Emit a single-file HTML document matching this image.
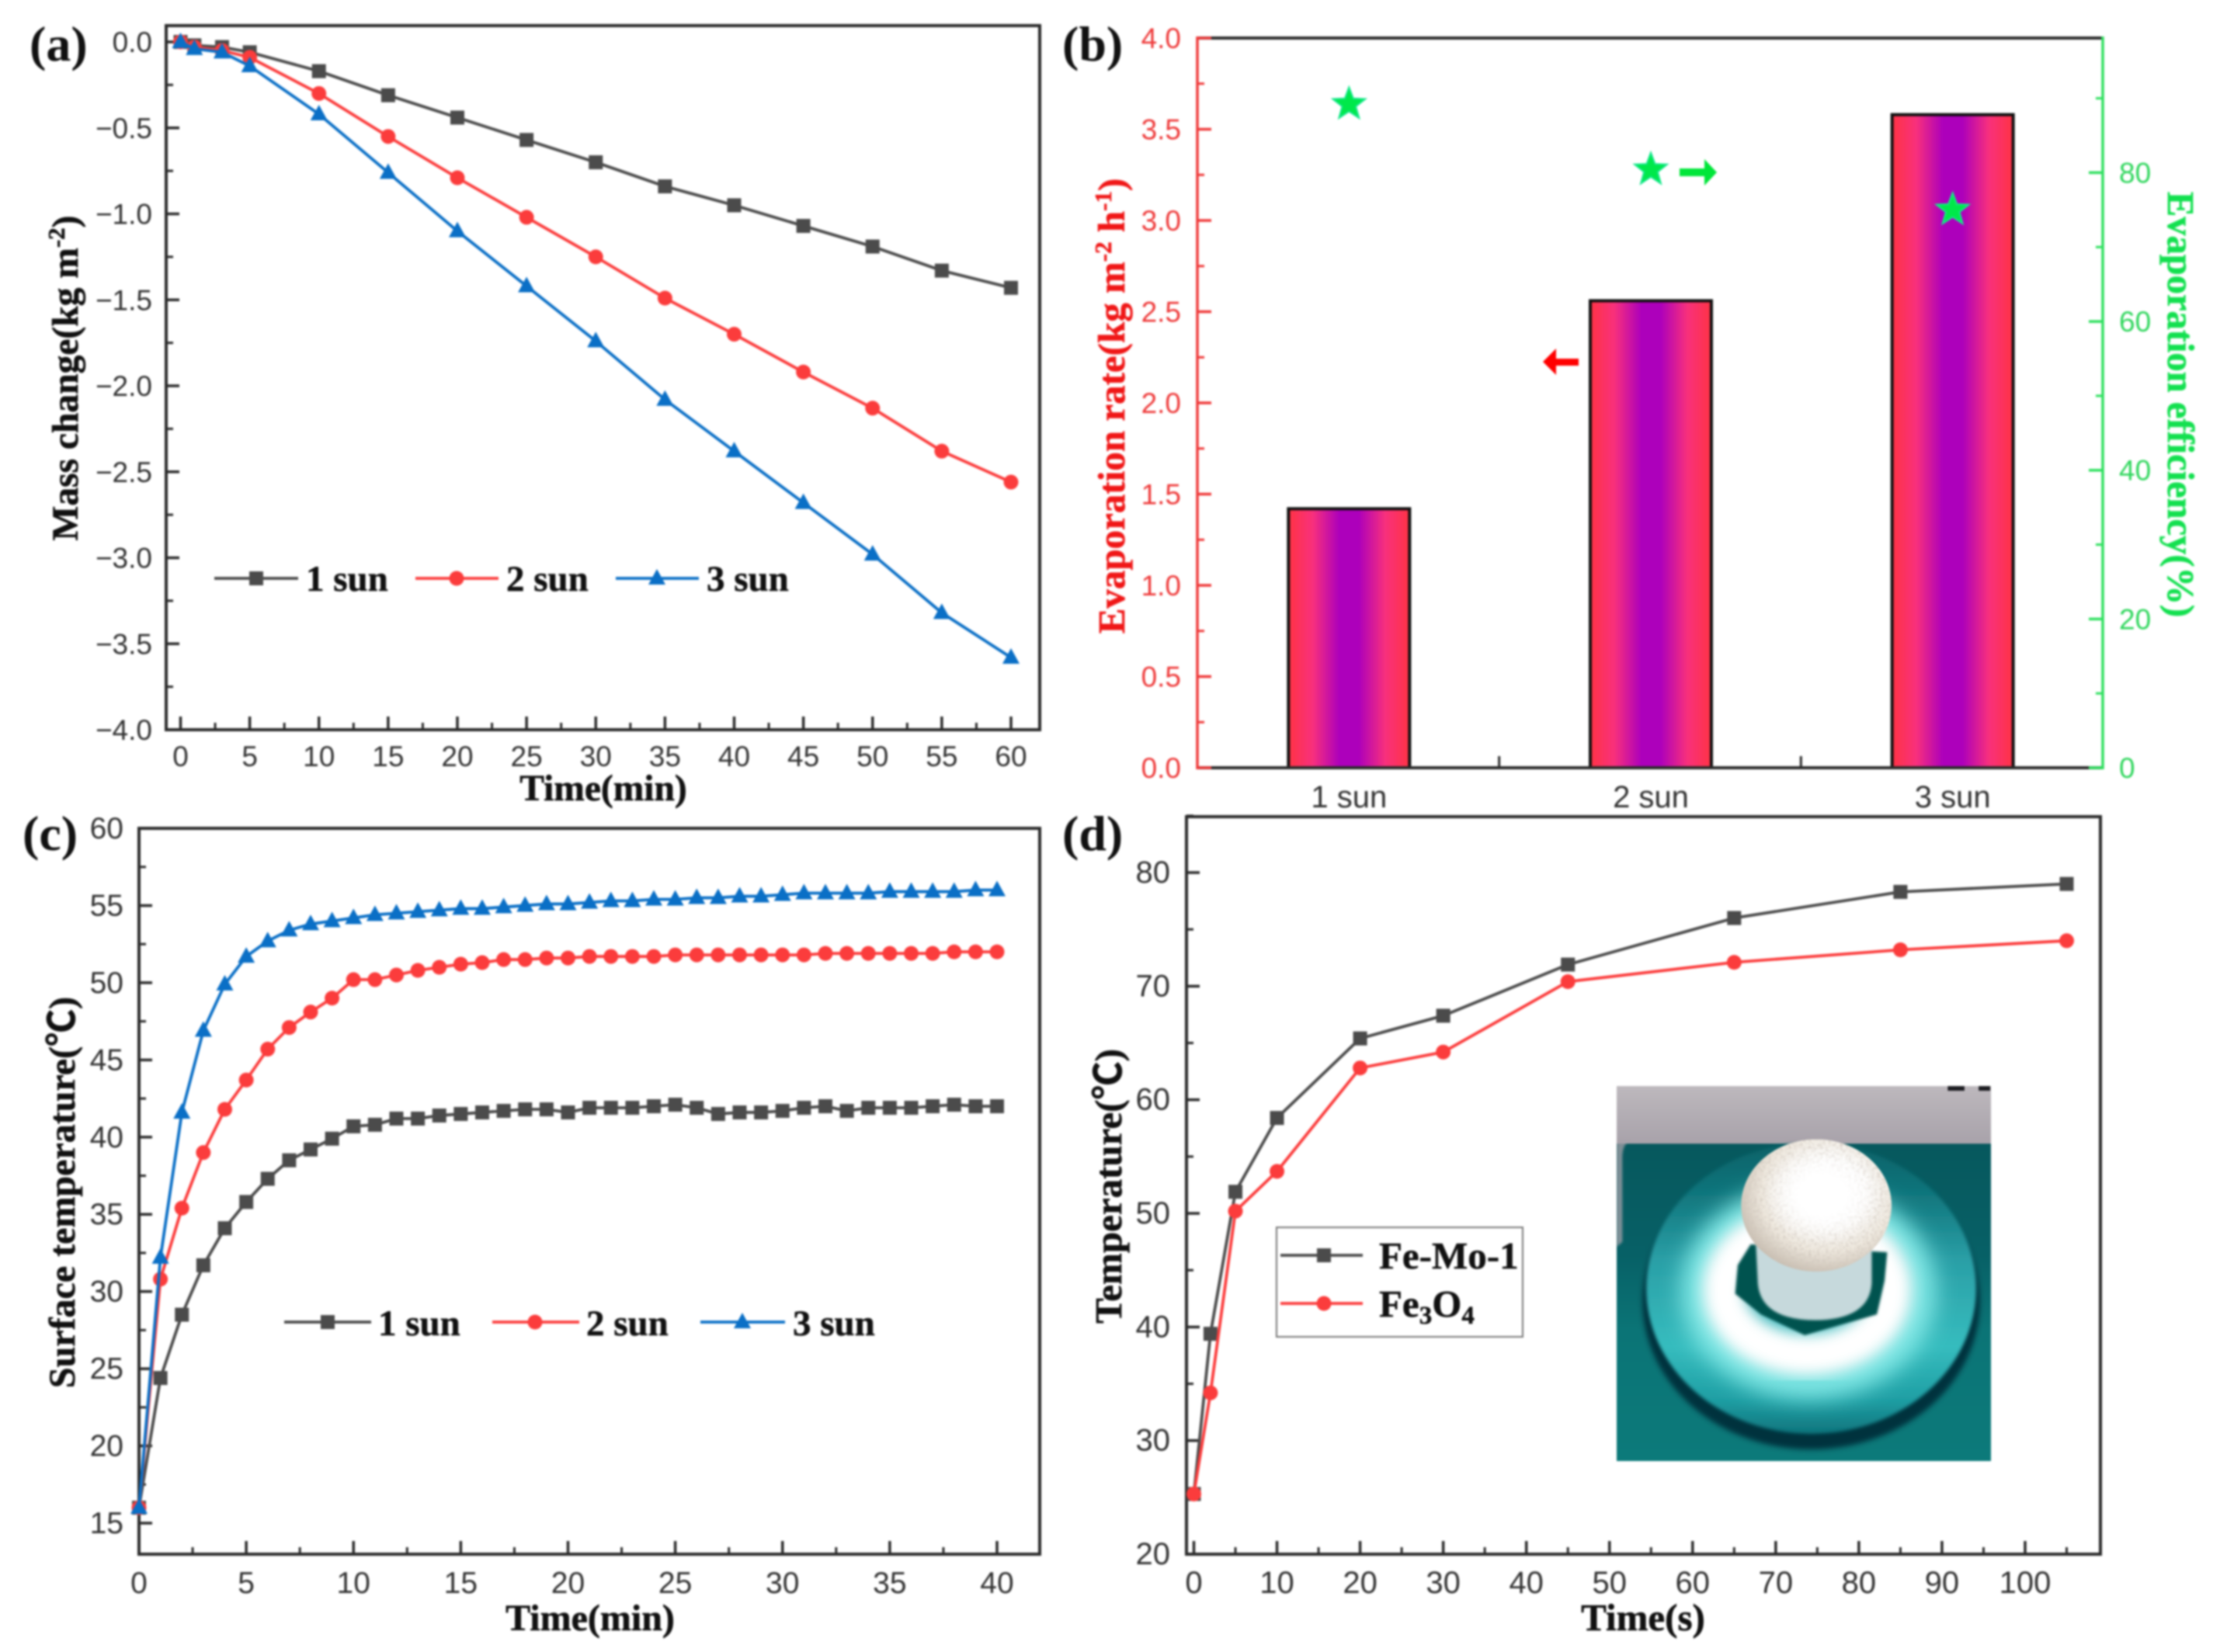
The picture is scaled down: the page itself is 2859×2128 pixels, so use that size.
<!DOCTYPE html>
<html lang="en">
<head>
<meta charset="utf-8">
<title>Evaporation performance charts</title>
<style>
html,body{margin:0;padding:0;background:#fff;width:2859px;height:2128px;overflow:hidden}
svg{display:block;filter:blur(1.2px)}
.tick{font-family:"Liberation Sans",sans-serif;fill:#333}
.title{font-family:"Liberation Serif","Noto Sans CJK SC",serif;font-weight:bold;stroke-width:0.6px}
.letter{font-family:"Liberation Serif",serif;font-size:64px;font-weight:bold;fill:#111}
.legend{font-family:"Liberation Serif",serif;font-size:47px;font-weight:bold;fill:#111;stroke:#111;stroke-width:0.5px}
</style>
</head>
<body>
<svg id="figure" xmlns="http://www.w3.org/2000/svg" width="2859" height="2128" viewBox="0 0 2859 2128">
<defs>
<linearGradient id="bar-gradient" x1="0" x2="1" y1="0" y2="0">
<stop offset="0" stop-color="#ff3344"/><stop offset="0.2" stop-color="#f8307c"/><stop offset="0.42" stop-color="#ad00bb"/><stop offset="0.58" stop-color="#ad00bb"/><stop offset="0.8" stop-color="#f8307c"/><stop offset="1" stop-color="#ff3344"/>
</linearGradient>
<linearGradient id="dish-gradient" x1="0" x2="0" y1="0" y2="1"><stop offset="0" stop-color="#0a6268"/><stop offset="0.16" stop-color="#0f737a"/><stop offset="0.4" stop-color="#2a9fa6"/><stop offset="0.7" stop-color="#36bcbe"/><stop offset="0.88" stop-color="#1f9fa4"/><stop offset="1" stop-color="#0e757d"/></linearGradient>
<radialGradient id="sponge-gradient" cx="0.58" cy="0.4" r="0.62"><stop offset="0.35" stop-color="#ffffff"/><stop offset="0.72" stop-color="#eee8de"/><stop offset="1" stop-color="#c9bfb2"/></radialGradient>
<linearGradient id="grey-band-gradient" x1="0" x2="0" y1="0" y2="1"><stop offset="0" stop-color="#bdb8bd"/><stop offset="1" stop-color="#a8a2aa"/></linearGradient>
<linearGradient id="board-gradient" x1="0" x2="0" y1="0" y2="1"><stop offset="0" stop-color="#065459"/><stop offset="0.45" stop-color="#076066"/><stop offset="0.65" stop-color="#0b7476"/><stop offset="1" stop-color="#0c7a7a"/></linearGradient>
<filter id="soft-10" x="-20%" y="-20%" width="140%" height="140%"><feGaussianBlur stdDeviation="10"/></filter>
<filter id="soft-40" x="-30%" y="-30%" width="160%" height="160%"><feGaussianBlur stdDeviation="40"/></filter>
<filter id="soft-28" x="-20%" y="-20%" width="140%" height="140%"><feGaussianBlur stdDeviation="28"/></filter>
<filter id="soft-6" x="-20%" y="-20%" width="140%" height="140%"><feGaussianBlur stdDeviation="6"/></filter>
<filter id="soft-4" x="-20%" y="-20%" width="140%" height="140%"><feGaussianBlur stdDeviation="4"/></filter>
<filter id="sponge-grain" x="-5%" y="-5%" width="110%" height="110%">
  <feTurbulence type="fractalNoise" baseFrequency="0.09" numOctaves="2" seed="4" result="n"/>
  <feColorMatrix in="n" type="matrix" values="0 0 0 0 0.62  0 0 0 0 0.56  0 0 0 0 0.5  1.8 0 0 0 -0.75" result="speck"/>
  <feComposite in="speck" in2="SourceAlpha" operator="in" result="clipped"/>
  <feMerge><feMergeNode in="SourceGraphic"/><feMergeNode in="clipped"/></feMerge>
</filter>
<radialGradient id="sponge-highlight" cx="0.5" cy="0.5" r="0.5"><stop offset="0.4" stop-color="#fff"/><stop offset="1" stop-color="#fff" stop-opacity="0"/></radialGradient>
<clipPath id="photo-clip"><rect x="0" y="0" width="1453" height="1445"/></clipPath>
</defs>
<rect x="0" y="0" width="2859" height="2128" fill="#fff"/>

<g id="panel-a"></g>
<g id="panel-b"></g>
<g id="panel-c"></g>
<g id="panel-d"></g>

<g transform="translate(2082,1399) scale(0.3318,0.3343)" clip-path="url(#photo-clip)">
  <rect width="1453" height="1445" fill="url(#board-gradient)"/>
  <rect width="1453" height="222" fill="url(#grey-band-gradient)"/>
  <path d="M0 210H50Q24 225 22 270V600L0 620Z" fill="#a8a2aa" opacity="0.75" filter="url(#soft-4)"/>
  <rect x="1285" y="0" width="65" height="18" fill="#1d1d22"/>
  <rect x="1405" y="0" width="45" height="18" fill="#1d1d22"/>
  <ellipse cx="755" cy="830" rx="655" ry="570" fill="#05323d" filter="url(#soft-10)"/>
  <ellipse cx="755" cy="780" rx="640" ry="560" fill="url(#dish-gradient)" filter="url(#soft-6)"/>
  <ellipse cx="745" cy="790" rx="430" ry="350" fill="none" stroke="#7fe6e4" stroke-width="130" filter="url(#soft-40)"/>
  <ellipse cx="740" cy="785" rx="325" ry="250" fill="none" stroke="#ffffff" stroke-width="165" filter="url(#soft-28)"/>
  <path d="M470 690L520 610L1050 640L1040 750L1010 880L730 960L560 880L460 800Z" fill="#06524f" filter="url(#soft-4)"/>
  <path d="M540 600H990V760Q980 900 770 902Q560 900 548 760Z" fill="#c6d9dc" filter="url(#soft-4)"/>
  <ellipse cx="775" cy="460" rx="292" ry="255" fill="url(#sponge-gradient)" filter="url(#sponge-grain)"/>
  <ellipse cx="800" cy="420" rx="230" ry="190" fill="url(#sponge-highlight)"/>
</g>

<g>
  <path d="M2033 462V471H2004V483L1987 466L2004 449V462Z" fill="#ff0000"/>
  <path d="M2163 217V227H2195V239L2211 222L2195 205V217Z" fill="#00e639"/>
</g>
</svg>
<script>
// ---- panel (a) values ----
const aTimes = [0, 1, 3, 5, 10, 15, 20, 25, 30, 35, 40, 45, 50, 55, 60];
const aSun1 = [0, -0.02, -0.03, -0.06, -0.17, -0.31, -0.44, -0.57, -0.70, -0.84, -0.95, -1.07, -1.19, -1.33, -1.43];
const aSun2 = [0, -0.03, -0.05, -0.09, -0.30, -0.55, -0.79, -1.02, -1.25, -1.49, -1.70, -1.92, -2.13, -2.38, -2.56];
const aSun3 = [0, -0.04, -0.06, -0.14, -0.42, -0.76, -1.10, -1.42, -1.74, -2.08, -2.38, -2.68, -2.98, -3.32, -3.58];
const aXTicks = [0, 5, 10, 15, 20, 25, 30, 35, 40, 45, 50, 55, 60];
const aYTicks = [0, -0.5, -1, -1.5, -2, -2.5, -3, -3.5, -4];
// ---- panel (b) values ----
const bCategories = ['1 sun', '2 sun', '3 sun'];
const bRates = [1.42, 2.56, 3.58];
const bEfficiency = [89.2, 80.4, 75];
const bLeftTicks = [0, 0.5, 1, 1.5, 2, 2.5, 3, 3.5, 4];
const bRightTicks = [0, 20, 40, 60, 80];
// ---- panel (c) values ----
const cTimes = [0,1,2,3,4,5,6,7,8,9,10,11,12,13,14,15,16,17,18,19,20,21,22,23,24,25,26,27,28,29,30,31,32,33,34,35,36,37,38,39,40];
const cSun1 = [16,24.4,28.5,31.7,34.1,35.8,37.3,38.5,39.2,39.9,40.7,40.8,41.2,41.2,41.4,41.5,41.6,41.7,41.8,41.8,41.6,41.9,41.9,41.9,42.0,42.1,41.9,41.5,41.6,41.6,41.7,41.9,42.0,41.7,41.9,41.9,41.9,42.0,42.1,42.0,42.0];
const cSun2 = [16,30.8,35.4,39.0,41.8,43.7,45.7,47.1,48.1,49.0,50.2,50.2,50.5,50.8,51.0,51.2,51.3,51.5,51.5,51.6,51.6,51.7,51.7,51.7,51.7,51.8,51.8,51.8,51.8,51.8,51.8,51.8,51.9,51.9,51.9,51.9,51.9,51.9,52,52,52];
const cSun3 = [16,32.2,41.6,46.9,49.9,51.7,52.7,53.4,53.8,54.0,54.2,54.4,54.5,54.6,54.7,54.8,54.8,54.9,55.0,55.1,55.1,55.2,55.3,55.3,55.4,55.4,55.5,55.5,55.6,55.6,55.7,55.8,55.8,55.8,55.8,55.9,55.9,55.9,55.9,56,56];
const cXTicks = [0, 5, 10, 15, 20, 25, 30, 35, 40];
const cYTicks = [15, 20, 25, 30, 35, 40, 45, 50, 55, 60];
// ---- panel (d) values ----
const dTimes = [0, 2, 5, 10, 20, 30, 45, 65, 85, 105];
const dFeMo = [25.3, 39.4, 51.9, 58.4, 65.4, 67.4, 71.9, 76, 78.3, 79];
const dFe3O4 = [25.3, 34.2, 50.2, 53.7, 62.8, 64.2, 70.4, 72.1, 73.2, 74];
const dXTicks = [0, 10, 20, 30, 40, 50, 60, 70, 80, 90, 100];
const dYTicks = [20, 30, 40, 50, 60, 70, 80];

const NS = 'http://www.w3.org/2000/svg';
const DARK = '#4b4b4b', RED = '#fb3c3c', BLUE = '#0a6fc6', AXIS = '#2b2b2b';
let tickSize = 37;

function el(tag, parent, attrs, text) {
  const n = document.createElementNS(NS, tag);
  for (const k in attrs) n.setAttribute(k, attrs[k]);
  if (text !== undefined) n.textContent = text;
  parent.appendChild(n);
  return n;
}
function linear(d0, d1, r0, r1) {
  return v => r0 + (v - d0) * (r1 - r0) / (d1 - d0);
}
function fmt1(v) {
  return (v < 0 ? '\u2212' : '') + Math.abs(v).toFixed(1);
}
function name(n, label, interactive) {
  
  
  return n;
}
function drawLine(g, x1, y1, x2, y2, color, w, label) {
  const l = el('line', g, {x1, y1, x2, y2, stroke: color, 'stroke-width': w});
  name(l, label, false);
  return l;
}
function drawTickLabel(g, x, y, text, anchor, color, label) {
  const t = el('text', g, {x, y, 'text-anchor': anchor, class: 'tick', style: 'fill:' + color + ';font-size:' + tickSize + 'px'}, text);
  name(t, label, false);
  return t;
}
function drawTitle(g, x, y, rot, color, size, parts, label) {
  const t = el('text', g, {x, y, 'text-anchor': 'middle', class: 'title', style: 'fill:' + color + ';stroke:' + color + ';font-size:' + size + 'px',
    transform: rot ? 'rotate(' + rot + ' ' + x + ' ' + y + ')' : ''});
  name(t, label, false);
  parts.forEach(p => {
    if (p.sup) {
      const s = el('tspan', t, {dy: -17, 'font-size': 31}, p.sup);
      name(s, label + '-superscript', false);
      const r = el('tspan', t, {dy: 17}, p.after || '');
      name(r, label + '-text', false);
    } else {
      const r = el('tspan', t, {}, p.text);
      name(r, label + '-text', false);
    }
  });
  return t;
}
function drawMarker(g, shape, cx, cy, color, label) {
  let m;
  if (shape === 'square') m = el('rect', g, {x: cx - 9, y: cy - 9, width: 18, height: 18, fill: color});
  else if (shape === 'circle') m = el('circle', g, {cx, cy, r: 9.5, fill: color});
  else m = el('polygon', g, {points: (cx) + ',' + (cy - 12) + ' ' + (cx + 11) + ',' + (cy + 8) + ' ' + (cx - 11) + ',' + (cy + 8), fill: color});
  name(m, label, false);
  return m;
}
function drawSeries(g, xs, ys, sx, sy, color, shape, label) {
  const line = el('polyline', g, {points: xs.map((x, i) => sx(x) + ',' + sy(ys[i])).join(' '),
    fill: 'none', stroke: color, 'stroke-width': 3.8, 'stroke-linejoin': 'round'});
  name(line, label + '-line', false);
  xs.forEach((x, i) => drawMarker(g, shape, sx(x), sy(ys[i]), color, label + '-point'));
}
function drawFrame(g, L, T, R, B) {
  const r = el('rect', g, {x: L, y: T, width: R - L, height: B - T, fill: 'none', stroke: AXIS, 'stroke-width': 4});
  name(r, 'plot-frame', false);
}
function drawXAxis(g, ticks, minorStep, sx, B, baseline, labels, maxMinor) {
  ticks.forEach((v, i) => {
    drawLine(g, sx(v), B, sx(v), B - 17, AXIS, 3.5, 'x-major-tick');
    drawTickLabel(g, sx(v), baseline, labels[i], 'middle', '#333', 'x-tick-label');
    const m = v + minorStep;
    if (m <= maxMinor) drawLine(g, sx(m), B, sx(m), B - 9, AXIS, 3, 'x-minor-tick');
  });
}
function drawYAxis(g, ticks, minorStep, sy, L, labelX, labels, limit) {
  ticks.forEach((v, i) => {
    drawLine(g, L, sy(v), L + 17, sy(v), AXIS, 3.5, 'y-major-tick');
    drawTickLabel(g, labelX, sy(v) + 13, labels[i], 'end', '#333', 'y-tick-label');
    const m = v + minorStep;
    if ((minorStep > 0 && m <= limit) || (minorStep < 0 && m >= limit)) drawLine(g, L, sy(m), L + 9, sy(m), AXIS, 3, 'y-minor-tick');
  });
}
function drawLegendEntry(g, x0, x1, mx, ly, tx, tb, color, shape, text, label, size) {
  drawLine(g, x0, ly, x1, ly, color, 3.8, label + '-line');
  drawMarker(g, shape, mx, ly, color, label + '-marker');
  const t = el('text', g, {x: tx, y: tb, class: 'legend'}, text);
  if (size) t.style.fontSize = size + 'px';
  name(t, label + '-text', false);
}
function drawLetter(g, x, y, text) {
  const t = el('text', g, {x, y, class: 'letter'}, text);
  name(t, 'panel-letter', false);
}
function star(cx, cy, R) {
  const pts = [];
  for (let i = 0; i < 10; i++) {
    const rad = i % 2 ? R * 0.42 : R;
    const a = -Math.PI / 2 + i * Math.PI / 5;
    pts.push((cx + rad * Math.cos(a)).toFixed(1) + ',' + (cy + rad * Math.sin(a)).toFixed(1));
  }
  return pts.join(' ');
}

// ---- panel (a) ----
(function () {
  const g = document.getElementById('panel-a');
  const L = 214, R = 1339, T = 33, B = 940;
  const sx = linear(0, 60, 232.5, 1302), sy = linear(0, -4, 54, 940);
  tickSize = 37;
  drawFrame(g, L, T, R, B);
  drawXAxis(g, aXTicks, 2.5, sx, B, 987, aXTicks.map(String), 60);
  drawYAxis(g, aYTicks, -0.25, sy, L, 196, aYTicks.map(fmt1), -4);
  drawSeries(g, aTimes, aSun1, sx, sy, DARK, 'square', 'series-1-sun');
  drawSeries(g, aTimes, aSun2, sx, sy, RED, 'circle', 'series-2-sun');
  drawSeries(g, aTimes, aSun3, sx, sy, BLUE, 'triangle', 'series-3-sun');
  drawLegendEntry(g, 276, 384, 330, 745, 394, 761, DARK, 'square', '1 sun', 'legend-1-sun');
  drawLegendEntry(g, 535, 642, 588, 745, 652, 761, RED, 'circle', '2 sun', 'legend-2-sun');
  drawLegendEntry(g, 793, 900, 846, 745, 910, 761, BLUE, 'triangle', '3 sun', 'legend-3-sun');
  drawTitle(g, 777, 1031, 0, '#111', 47.5, [{text: 'Time(min)'}], 'x-axis-title');
  drawTitle(g, 100, 487, -90, '#111', 47.5, [{text: 'Mass change(kg m'}, {sup: '-2', after: ')'}], 'y-axis-title');
  drawLetter(g, 38, 78, '(a)');
})();

// ---- panel (b) ----
(function () {
  const g = document.getElementById('panel-b');
  const L = 1542, R = 2708, T = 49, B = 989;
  const sy = linear(0, 4, B, T), syr = linear(0, 98.1, B, T);
  const band = (R - L) / bCategories.length;
  const cx = i => L + band * (i + 0.5);
  const barW = 156;
  tickSize = 37;
  bCategories.forEach((c, i) => {
    const bar = el('rect', g, {x: cx(i) - barW / 2 + 1, y: sy(bRates[i]), width: barW, height: B - sy(bRates[i]),
      fill: 'url(#bar-gradient)', stroke: '#111', 'stroke-width': 4});
    
    
    if (i > 0) drawLine(g, L + band * i, B, L + band * i, B - 15, AXIS, 3, 'category-tick');
  });
  tickSize = 40;
  bCategories.forEach((c, i) => drawTickLabel(g, cx(i) + 1, 1040, c, 'middle', '#333', 'category-label'));
  tickSize = 37;
  drawLine(g, L, T, R, T, AXIS, 4, 'top-axis');
  drawLine(g, L, B, R, B, AXIS, 4, 'bottom-axis');
  drawLine(g, L, T - 2, L, B + 2, '#ef3a3a', 3.5, 'left-axis');
  drawLine(g, R, T - 2, R, B + 2, '#2fe05f', 3.5, 'right-axis');
  bLeftTicks.forEach(v => {
    drawLine(g, L, sy(v), L + 18, sy(v), '#ef3a3a', 3.5, 'left-major-tick');
    drawTickLabel(g, 1521, sy(v) + 13, v.toFixed(1), 'end', '#ee3a3a', 'left-tick-label');
    if (v < 4) drawLine(g, L, sy(v + 0.25), L + 9, sy(v + 0.25), '#ef3a3a', 3, 'left-minor-tick');
  });
  bRightTicks.forEach(v => {
    drawLine(g, R, syr(v), R - 18, syr(v), '#2fe05f', 3.5, 'right-major-tick');
    drawTickLabel(g, 2729, syr(v) + 13, String(v), 'start', '#2fd65c', 'right-tick-label');
    drawLine(g, R, syr(v + 10), R - 9, syr(v + 10), '#2fe05f', 3, 'right-minor-tick');
  });
  bEfficiency.forEach((v, i) => {
    const s = el('polygon', g, {points: star(cx(i) + 1, syr(v), 22), fill: '#00e84a', stroke: '#14e88a', 'stroke-width': 2});
    
    
  });
  drawTitle(g, 1448, 523, -90, '#f01818', 49, [{text: 'Evaporation rate(kg m'}, {sup: '-2', after: ' h'}, {sup: '-1', after: ')'}], 'left-axis-title');
  drawTitle(g, 2792, 521, 90, '#14e050', 48.5, [{text: 'Evaporation efficiency(%)'}], 'right-axis-title');
  drawLetter(g, 1368, 78, '(b)');
})();

// ---- panel (c) ----
(function () {
  const g = document.getElementById('panel-c');
  const L = 179, R = 1339, T = 1067, B = 2002;
  const sx = linear(0, 40, 179, 1284), sy = linear(15, 60, 1962, 1067);
  tickSize = 39;
  drawFrame(g, L, T, R, B);
  drawXAxis(g, cXTicks, 2.5, sx, B, 2052, cXTicks.map(String), 40);
  drawYAxis(g, cYTicks, 2.5, sy, L, 159, cYTicks.map(String), 60);
  drawSeries(g, cTimes, cSun1, sx, sy, DARK, 'square', 'series-1-sun');
  drawSeries(g, cTimes, cSun2, sx, sy, RED, 'circle', 'series-2-sun');
  drawSeries(g, cTimes, cSun3, sx, sy, BLUE, 'triangle', 'series-3-sun');
  drawLegendEntry(g, 366, 478, 422, 1703, 487, 1720, DARK, 'square', '1 sun', 'legend-1-sun');
  drawLegendEntry(g, 634, 746, 689, 1703, 755, 1720, RED, 'circle', '2 sun', 'legend-2-sun');
  drawLegendEntry(g, 902, 1011, 956, 1703, 1021, 1720, BLUE, 'triangle', '3 sun', 'legend-3-sun');
  drawTitle(g, 760, 2100, 0, '#111', 48, [{text: 'Time(min)'}], 'x-axis-title');
  drawTitle(g, 96, 1536, -90, '#111', 48, [{text: 'Surface temperature(\u2103)'}], 'y-axis-title');
  drawLetter(g, 29, 1095, '(c)');
})();

// ---- panel (d) ----
(function () {
  const g = document.getElementById('panel-d');
  const L = 1528, R = 2705, T = 1052, B = 2002;
  const sx = linear(0, 100, 1537.5, 2608), sy = linear(20, 80, 2002, 1124);
  tickSize = 40;
  drawFrame(g, L, T, R, B);
  drawXAxis(g, dXTicks, 5, sx, B, 2052, dXTicks.map(String), 105);
  drawYAxis(g, dYTicks, 5, sy, L, 1507, dYTicks.map(String), 85);
  drawSeries(g, dTimes, dFeMo, sx, sy, DARK, 'square', 'series-fe-mo-1');
  drawSeries(g, dTimes, dFe3O4, sx, sy, RED, 'circle', 'series-fe3o4');
  const box = el('rect', g, {x: 1644, y: 1581, width: 317, height: 141, fill: '#fff', stroke: '#777', 'stroke-width': 2});
  
  
  drawLegendEntry(g, 1649, 1755, 1705, 1617, 1776, 1634, DARK, 'square', 'Fe-Mo-1', 'legend-fe-mo-1', 49);
  drawLine(g, 1649, 1679, 1755, 1679, RED, 3.8, 'legend-fe3o4-line');
  drawMarker(g, 'circle', 1705, 1679, RED, 'legend-fe3o4-marker');
  const t = el('text', g, {x: 1776, y: 1696, class: 'legend', style: 'font-size:49px'});
  
  
  t.innerHTML = 'Fe<tspan dy="9" style="font-size:33px">3</tspan><tspan dy="-9">O</tspan><tspan dy="9" style="font-size:33px">4</tspan>';
  drawTitle(g, 2116, 2100, 0, '#111', 49, [{text: 'Time(s)'}], 'x-axis-title');
  drawTitle(g, 1444, 1528, -90, '#111', 49, [{text: 'Temperature(\u2103)'}], 'y-axis-title');
  drawLetter(g, 1368, 1095, '(d)');
})();
</script>
</body>
</html>
